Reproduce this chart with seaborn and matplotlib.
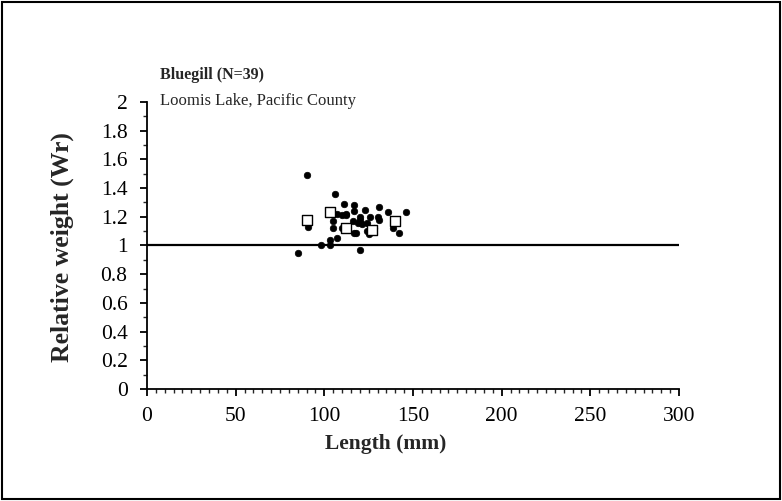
import matplotlib
matplotlib.use("Agg")
import matplotlib.pyplot as plt
import seaborn as sns
import pandas as pd
from matplotlib.ticker import MultipleLocator
from matplotlib.patches import Rectangle

sns.set_style("white")
plt.rcParams['font.family'] = ['Liberation Serif', 'DejaVu Serif']

length_mm = [90, 106, 111, 117, 123, 131, 136, 146, 107, 110, 112, 117, 120, 126, 130, 131,
             116, 119, 121, 124, 105, 91, 105, 110, 117, 118, 124, 125, 139, 142, 107, 103,
             98, 103, 85, 120, 112, 120, 128]
wr = [1.49, 1.36, 1.29, 1.28, 1.25, 1.27, 1.23, 1.23, 1.22, 1.21, 1.21, 1.24, 1.20, 1.20, 1.20, 1.18,
      1.17, 1.16, 1.15, 1.16, 1.17, 1.13, 1.12, 1.12, 1.09, 1.09, 1.10, 1.08, 1.12, 1.09, 1.05, 1.04,
      1.00, 1.00, 0.95, 0.97, 1.22, 1.18, 1.12]

mean_length = [90, 103, 112, 127, 140]
mean_wr = [1.18, 1.23, 1.12, 1.11, 1.17]

standard_x = [0, 300]
standard_y = [1, 1]

fish = pd.DataFrame({"Length": length_mm, "Wr": wr})
means = pd.DataFrame({"Length": mean_length, "Wr": mean_wr})

W, H = 782, 501
fig = plt.figure(figsize=(W / 100, H / 100), dpi=100)
ax = fig.add_axes([147 / W, 1 - 389 / H, (679 - 147) / W, (389 - 102) / H])

ax.plot(standard_x, standard_y, color="black", lw=1.6, zorder=2)
sns.scatterplot(data=fish, x="Length", y="Wr", ax=ax, color="black", marker="o",
                s=22, edgecolor="black", linewidth=0.5, zorder=3)
sns.scatterplot(data=means, x="Length", y="Wr", ax=ax, marker="s", s=55,
                facecolor="white", edgecolor="black", linewidth=1.0, zorder=4)

ax.set_xlim(0, 300)
ax.set_ylim(0, 2)
ax.xaxis.set_major_locator(MultipleLocator(50))
ax.xaxis.set_minor_locator(MultipleLocator(5))
ax.yaxis.set_major_locator(MultipleLocator(0.2))
ax.yaxis.set_minor_locator(MultipleLocator(0.1))
ax.yaxis.set_major_formatter(plt.FuncFormatter(lambda v, p: f"{v:g}"))

for side in ["top", "right"]:
    ax.spines[side].set_visible(False)
for side in ["left", "bottom"]:
    ax.spines[side].set_color("black")
    ax.spines[side].set_linewidth(1.3)

ax.tick_params(axis="both", which="major", direction="out", length=5, width=1.3,
               labelsize=15.5, colors="black", left=True, bottom=True)
ax.tick_params(axis="x", which="major", pad=8)
ax.tick_params(axis="y", which="major", pad=9)
ax.tick_params(axis="both", which="minor", direction="out", length=3, width=1.0,
               left=True, bottom=True)

ax.set_xlabel("")
ax.set_ylabel("")
fig.text(386 / W, 1 - 444 / H, "Length (mm)", fontsize=15.5, fontweight="bold",
         ha="center", va="center")
fig.text(62 / W, 1 - 247 / H, "Relative weight (Wr)", fontsize=18.5, fontweight="bold",
         ha="center", va="center", rotation=90)

fig.text(160 / W, 1 - 75 / H, "Bluegill (N=39)", fontsize=11.5, fontweight="bold",
         va="center", ha="left")
fig.text(160 / W, 1 - 101 / H, "Loomis Lake, Pacific County", fontsize=12,
         va="center", ha="left")

fig.patches.append(Rectangle((0.003, 0.004), 0.994, 0.992, transform=fig.transFigure,
                             fill=False, edgecolor="black", linewidth=1.5))

fig.savefig("out.png", dpi=100)
